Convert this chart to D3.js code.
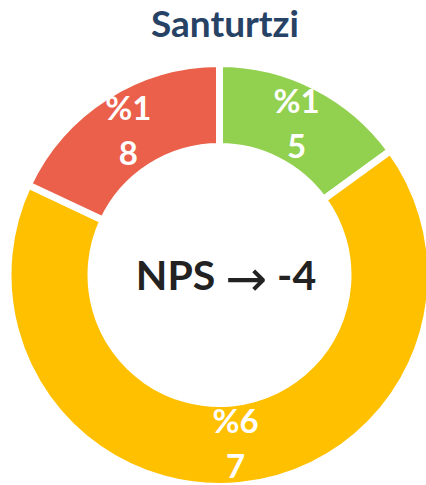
<!DOCTYPE html>
<html>
<head>
<meta charset="utf-8">
<script src="https://cdn.jsdelivr.net/npm/d3@7/dist/d3.min.js"></script>
<style>
  html, body { margin: 0; padding: 0; background: #fff; overflow: hidden; }
  svg { display: block; }
</style>
</head>
<body>
<svg id="chart" width="426" height="485"></svg>
<script>
// NPS breakdown for Santurtzi: promoters, passives, detractors (percent)
const categories = ["Promotores", "Pasivos", "Detractores"];
const values = [15, 67, 18];
const colors = ["#92D050", "#FFC000", "#EA604A"];
const title = "Santurtzi";
const npsValue = -4;

const width = 426, height = 485;
const cx = 219.5, cy = 275;
const outerR = 211.5, innerR = 128.5, labelR = 170;

const svg = d3.select("#chart");

svg.append("text")
  .attr("x", 225)
  .attr("y", 37)
  .attr("text-anchor", "middle")
  .attr("font-family", "Lato, 'Open Sans', sans-serif")
  .attr("font-weight", "bold")
  .attr("font-size", 37)
  .attr("fill", "#264264")
  .text(title);

const pie = d3.pie().sort(null).value(d => d.value);
const data = categories.map((c, i) => ({ name: c, value: values[i], color: colors[i] }));
const arcs = pie(data);

const arc = d3.arc().innerRadius(innerR).outerRadius(outerR);
const labelArc = d3.arc().innerRadius(labelR).outerRadius(labelR);

const g = svg.append("g").attr("transform", `translate(${cx},${cy})`);

g.selectAll("path.slice")
  .data(arcs)
  .join("path")
  .attr("class", "slice")
  .attr("d", arc)
  .attr("fill", d => d.data.color)
  .attr("stroke", "#fff")
  .attr("stroke-width", 7)
  .attr("stroke-linejoin", "miter");

// Percentage labels, wrapped onto two lines as in a narrow label box
const lineGap = 45;
g.selectAll("text.pct")
  .data(arcs)
  .join("text")
  .attr("class", "pct")
  .attr("text-anchor", "middle")
  .attr("font-family", "Lato, 'Open Sans', sans-serif")
  .attr("font-weight", "bold")
  .attr("font-size", 33)
  .attr("fill", "#fff")
  .each(function(d) {
    const [x, y] = labelArc.centroid(d);
    const s = "%" + d.data.value;
    const lines = [s.slice(0, 2), s.slice(2)];
    const t = d3.select(this);
    lines.forEach((ln, i) => {
      t.append("tspan")
        .attr("x", x)
        .attr("y", y + (i - 0.5) * lineGap + 11.5)
        .text(ln);
    });
  });

// Center NPS figure
const center = svg.append("text")
  .attr("x", 226)
  .attr("y", 290)
  .attr("text-anchor", "middle")
  .attr("font-family", "Lato, 'Open Sans', sans-serif")
  .attr("font-weight", "bold")
  .attr("font-size", 41)
  .attr("fill", "#222222");
center.append("tspan").text("NPS ");
center.append("tspan")
  .attr("font-family", "'DejaVu Sans', sans-serif")
  .attr("font-weight", "normal")
  .attr("font-size", 50)
  .attr("dy", 6)
  .text("\u2192");
center.append("tspan").attr("dy", -6).text(" " + npsValue);
</script>
</body>
</html>
